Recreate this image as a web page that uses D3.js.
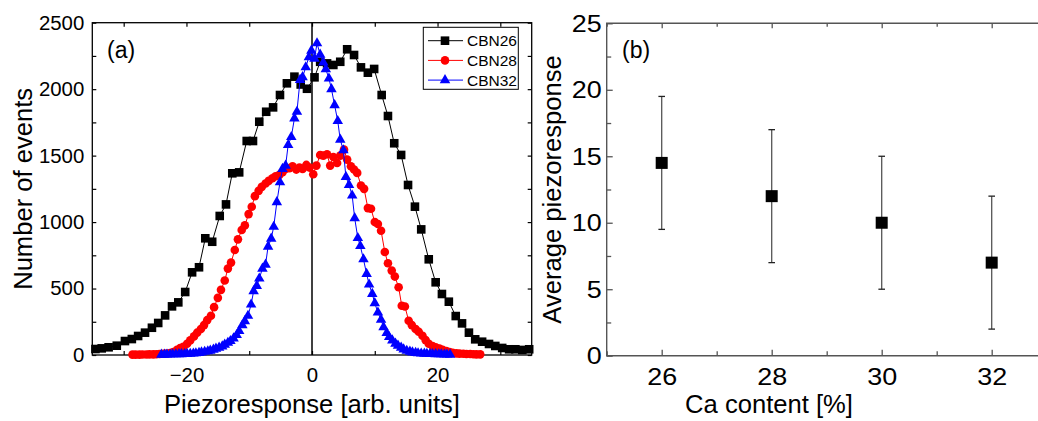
<!DOCTYPE html>
<html>
<head>
<meta charset="utf-8">
<script src="https://cdn.jsdelivr.net/npm/d3@7"></script>
<style>
  body { margin: 0; background: #fff; }
  svg { display: block; font-family: "Liberation Sans", Arial, sans-serif; }
</style>
</head>
<body>
<svg id="chart" width="1038" height="421"></svg>
<script>
// ---------------- panel (a): histograms ----------------
const cbn26X = [-34.5,-33.5,-32.4,-31.1,-29.8,-28.7,-27.7,-26.6,-25.5,-24.5,-23.4,-22.3,-21.3,-20.2,-19.1,-18.0,-17.0,-15.9,-14.7,-13.7,-12.7,-11.6,-10.4,-9.4,-8.4,-7.3,-6.2,-5.1,-4.0,-2.8,-1.8,-0.8,0.4,1.3,2.4,3.4,4.5,5.6,6.7,7.8,8.9,9.9,11.1,12.1,13.1,14.2,15.3,16.4,17.4,18.6,19.7,20.7,21.8,22.9,23.9,25.0,26.0,27.1,28.2,29.2,30.3,31.4,32.4,33.5,34.6];
const cbn26Y = [45,50,58,70,105,120,143,168,205,241,298,366,396,474,622,660,878,852,1046,1133,1367,1374,1610,1610,1755,1830,1863,1956,2044,2094,2035,2003,2089,2206,2194,2182,2206,2300,2257,2164,2124,2152,1956,1798,1593,1505,1279,1116,945,720,547,459,401,293,238,168,118,100,83,68,53,43,43,38,43];

const cbn28X = [-28.6,-28.1,-27.5,-27.0,-26.4,-25.9,-25.3,-24.8,-24.3,-23.7,-23.2,-22.6,-22.1,-21.5,-21.0,-20.5,-19.9,-19.4,-18.8,-18.3,-17.7,-17.2,-16.7,-16.1,-15.6,-15.0,-14.5,-13.9,-13.4,-12.9,-12.3,-11.8,-11.2,-10.7,-10.1,-9.6,-9.1,-8.5,-8.0,-7.4,-6.9,-6.3,-5.8,-5.2,-4.7,-4.2,-3.6,-3.1,-2.5,-2.0,-1.5,-0.9,-0.4,0.2,0.7,1.3,1.8,2.4,2.9,3.4,4.0,4.5,5.1,5.6,6.2,6.7,7.2,7.8,8.3,8.9,9.4,10.0,10.5,11.0,11.6,12.1,12.7,13.2,13.8,14.3,14.8,15.4,15.9,16.5,17.0,17.6,18.1,18.6,19.2,19.7,20.3,20.8,21.4,21.9,22.4,23.0,23.5,24.1,24.6,25.2,25.7,26.2,26.8];
const cbn28Y = [3,3,3,4,4,5,5,6,7,9,11,15,22,40,52,62,85,110,140,168,195,225,262,295,360,430,490,560,650,695,790,870,940,975,1060,1115,1195,1235,1265,1290,1310,1330,1345,1355,1375,1400,1405,1420,1395,1410,1400,1430,1410,1360,1425,1505,1500,1510,1425,1490,1445,1500,1545,1470,1420,1395,1370,1275,1250,1105,1100,1000,985,935,775,690,635,590,510,370,365,258,225,195,175,145,112,85,68,58,48,40,30,22,16,12,10,9,8,7,6,5,5];

const cbn32X = [-24.0,-23.5,-23.1,-22.6,-22.2,-21.7,-21.2,-20.8,-20.3,-19.9,-19.4,-18.9,-18.5,-18.0,-17.6,-17.1,-16.6,-16.2,-15.7,-15.3,-14.8,-14.3,-13.9,-13.4,-13.0,-12.5,-12.0,-11.6,-11.1,-10.7,-10.2,-9.7,-9.3,-8.8,-8.4,-7.9,-7.4,-7.0,-6.5,-6.1,-5.6,-5.1,-4.7,-4.2,-3.8,-3.3,-2.8,-2.4,-1.9,-1.5,-1.0,-0.5,-0.1,0.4,0.8,1.3,1.8,2.2,2.7,3.1,3.6,4.1,4.5,5.0,5.4,5.9,6.4,6.8,7.3,7.7,8.2,8.7,9.1,9.6,10.0,10.5,11.0,11.4,11.9,12.3,12.8,13.3,13.7,14.2,14.6,15.1,15.6,16.0,16.5,16.9,17.4,17.9,18.3,18.8,19.2,19.7,20.2,20.6,21.1,21.5,22.0];
const cbn32Y = [3,3,4,4,5,5,6,6,7,8,9,11,13,16,20,24,28,33,40,48,55,65,78,92,105,125,150,180,225,255,295,380,480,520,575,650,680,815,875,965,1150,1300,1400,1425,1580,1640,1780,1830,2070,2090,2165,2240,2290,2230,2345,2260,2200,2150,2080,2000,1880,1760,1620,1540,1340,1280,1200,1030,880,820,720,610,530,460,390,320,265,210,165,135,110,85,70,55,42,32,25,20,16,13,11,10,9,8,7,6,5,5,4,4,3];

const seriesNames = ["CBN26", "CBN28", "CBN32"];
const histXTicks = [-30, -20, -10, 0, 10, 20, 30];
const histXLabels = [-20, 0, 20];
const histYTicks = [0, 250, 500, 750, 1000, 1250, 1500, 1750, 2000, 2250, 2500];

// ---------------- panel (b): averages ----------------
const caContent = [26, 28, 30, 32];
const avgPiezo = [14.5, 12, 10, 7];
const avgErr = [5, 5, 5, 5];
const caTicks = [25, 26, 27, 28, 29, 30, 31, 32, 33];
const avgTicks = [0, 2.5, 5, 7.5, 10, 12.5, 15, 17.5, 20, 22.5, 25];

const svg = d3.select("#chart");

// widen axis digits a little, the original font runs wider than Arial
function stretch(sel, k) {
  sel.each(function () {
    const w = this.getComputedTextLength();
    if (w > 0) d3.select(this).attr("textLength", w * k).attr("lengthAdjust", "spacingAndGlyphs");
  });
}

//------------------------------------------------------//
// Panel (a)
//------------------------------------------------------//
const xA = d3.scaleLinear().domain([-35, 35]).range([92.3, 531.7]);
const yA = d3.scaleLinear().domain([0, 2500]).range([355, 22.7]);

const gA = svg.append("g");

gA.append("g")
  .attr("transform", `translate(0,${yA(0)})`)
  .call(d3.axisBottom(xA).tickValues(histXTicks).tickSizeInner(-4).tickSizeOuter(0).tickPadding(13)
    .tickFormat(d => histXLabels.includes(d) ? (d < 0 ? "\u2212" + (-d) : String(d)) : ""));
gA.append("g")
  .attr("transform", `translate(0,${yA(2500)})`)
  .call(d3.axisTop(xA).tickValues(histXTicks).tickSizeInner(-4).tickSizeOuter(0).tickFormat(""));
gA.append("g")
  .attr("transform", `translate(${xA(-35)},0)`)
  .call(d3.axisLeft(yA).tickValues(histYTicks).tickSizeInner(-4).tickSizeOuter(0).tickPadding(8)
    .tickFormat(d => d % 500 === 0 ? String(d) : ""));
gA.append("g")
  .attr("transform", `translate(${xA(35)},0)`)
  .call(d3.axisRight(yA).tickValues(histYTicks).tickSizeInner(-4).tickSizeOuter(0).tickFormat(""));

gA.selectAll("g").attr("font-family", null);
gA.selectAll(".domain").remove();
gA.selectAll(".tick line").attr("stroke", "#000").attr("stroke-width", 1.2);
gA.selectAll(".tick text").attr("font-size", 20).attr("fill", "#000");
stretch(gA.selectAll(".tick text"), 1.02);

gA.append("rect")
  .attr("x", xA(-35)).attr("y", yA(2500))
  .attr("width", xA(35) - xA(-35)).attr("height", yA(0) - yA(2500))
  .attr("fill", "none").attr("stroke", "#000").attr("stroke-width", 1.3);

// zero line
gA.append("line")
  .attr("x1", xA(0)).attr("x2", xA(0))
  .attr("y1", yA(0)).attr("y2", yA(2500))
  .attr("stroke", "#000").attr("stroke-width", 1.5);

const series = [
  { name: seriesNames[0], xs: cbn26X, ys: cbn26Y, color: "#000", shape: "square" },
  { name: seriesNames[1], xs: cbn28X, ys: cbn28Y, color: "#ff0000", shape: "circle" },
  { name: seriesNames[2], xs: cbn32X, ys: cbn32Y, color: "#0000ff", shape: "triangle" }
];

function drawMarker(sel, shape, color) {
  if (shape === "circle") {
    sel.append("circle").attr("r", 4.3).attr("fill", color);
  } else if (shape === "square") {
    sel.append("rect").attr("x", -4.3).attr("y", -4.3).attr("width", 8.6).attr("height", 8.6).attr("fill", color);
  } else {
    sel.append("path").attr("d", d3.symbol(d3.symbolTriangle, 48)()).attr("fill", color);
  }
}

const line = d3.line().x(d => xA(d[0])).y(d => yA(d[1]));

series.forEach(s => {
  const pts = s.xs.map((x, i) => [x, s.ys[i]]);
  gA.append("path")
    .attr("d", line(pts))
    .attr("fill", "none").attr("stroke", s.color).attr("stroke-width", 1);
  gA.append("g").selectAll("g")
    .data(pts).join("g")
    .attr("transform", d => `translate(${xA(d[0])},${yA(d[1])})`)
    .each(function () { drawMarker(d3.select(this), s.shape, s.color); });
});

// legend
const leg = gA.append("g");
leg.append("rect")
  .attr("x", 423.3).attr("y", 27.3).attr("width", 95).attr("height", 62)
  .attr("fill", "#fff").attr("stroke", "#000").attr("stroke-width", 1);
series.forEach((s, i) => {
  const y = 40.7 + i * 19.7;
  leg.append("line").attr("x1", 428).attr("x2", 463).attr("y1", y).attr("y2", y)
    .attr("stroke", s.color).attr("stroke-width", 1);
  drawMarker(leg.append("g").attr("transform", `translate(445,${y})`), s.shape, s.color);
  leg.append("text").attr("x", 467).attr("y", y).attr("dy", "0.36em")
    .attr("font-size", 15.5).text(s.name);
});

gA.append("text").attr("x", 107).attr("y", 58).attr("font-size", 23).text("(a)");

gA.append("text")
  .attr("x", (xA(-35) + xA(35)) / 2).attr("y", 413)
  .attr("text-anchor", "middle").attr("font-size", 25.6)
  .text("Piezoresponse [arb. units]");
gA.append("text")
  .attr("transform", `translate(32,${(yA(0) + yA(2500)) / 2}) rotate(-90)`)
  .attr("text-anchor", "middle").attr("font-size", 25.6)
  .text("Number of events");

//------------------------------------------------------//
// Panel (b)
//------------------------------------------------------//
const xB = d3.scaleLinear().domain([25, 33]).range([606.7, 1046.7]);
const yB = d3.scaleLinear().domain([0, 25]).range([355.7, 23.3]);
const frameColor = "#555";

const gB = svg.append("g");

function minorLen(d, step) { return d % step === 0 ? -6 : -4.5; }

const bottomB = gB.append("g")
  .attr("transform", `translate(0,${yB(0)})`)
  .call(d3.axisBottom(xB).tickValues(caTicks).tickSizeInner(0).tickSizeOuter(0).tickPadding(12)
    .tickFormat(d => d % 2 === 0 && caContent.includes(d) ? String(d) : ""));
bottomB.selectAll(".tick line").attr("y2", d => minorLen(d, 2));
const topB = gB.append("g")
  .attr("transform", `translate(0,${yB(25)})`)
  .call(d3.axisTop(xB).tickValues(caTicks).tickSizeInner(0).tickSizeOuter(0).tickFormat(""));
topB.selectAll(".tick line").attr("y2", d => -minorLen(d, 2) - 1);
const leftB = gB.append("g")
  .attr("transform", `translate(${xB(25)},0)`)
  .call(d3.axisLeft(yB).tickValues(avgTicks).tickSizeInner(0).tickSizeOuter(0).tickPadding(5)
    .tickFormat(d => d % 5 === 0 ? String(d) : ""));
leftB.selectAll(".tick line").attr("x2", d => -minorLen(d, 5));

gB.selectAll("g").attr("font-family", null);
gB.selectAll(".domain").remove();
gB.selectAll(".tick line").attr("stroke", frameColor).attr("stroke-width", 1.3);
gB.selectAll(".tick text").attr("font-size", 24.5).attr("fill", "#000");
stretch(gB.selectAll(".tick text"), 1.1);

// frame (right side falls outside the picture)
gB.append("path")
  .attr("d", `M${xB(33)},${yB(25)}H${xB(25)}V${yB(0)}H${xB(33)}`)
  .attr("fill", "none").attr("stroke", frameColor).attr("stroke-width", 1.4);

const avgData = caContent.map((c, i) => ({ c, v: avgPiezo[i], e: avgErr[i] }));
const bars = gB.append("g").selectAll("g").data(avgData).join("g");
bars.append("line")
  .attr("x1", d => xB(d.c)).attr("x2", d => xB(d.c))
  .attr("y1", d => yB(d.v - d.e)).attr("y2", d => yB(d.v + d.e))
  .attr("stroke", frameColor).attr("stroke-width", 1.3);
[-1, 1].forEach(k => {
  bars.append("line")
    .attr("x1", d => xB(d.c) - 3.3).attr("x2", d => xB(d.c) + 3.3)
    .attr("y1", d => yB(d.v + k * d.e)).attr("y2", d => yB(d.v + k * d.e))
    .attr("stroke", "#222").attr("stroke-width", 1.3);
});
bars.append("rect")
  .attr("x", d => xB(d.c) - 6).attr("y", d => yB(d.v) - 6)
  .attr("width", 12).attr("height", 12).attr("fill", "#000");

gB.append("text").attr("x", 622).attr("y", 58).attr("font-size", 23).text("(b)");

gB.append("text")
  .attr("x", 769).attr("y", 413)
  .attr("text-anchor", "middle").attr("font-size", 25.6)
  .text("Ca content [%]");
gB.append("text")
  .attr("transform", `translate(561,${(yB(0) + yB(25)) / 2}) rotate(-90)`)
  .attr("text-anchor", "middle").attr("font-size", 25.6)
  .text("Average piezoresponse");
</script>
</body>
</html>
